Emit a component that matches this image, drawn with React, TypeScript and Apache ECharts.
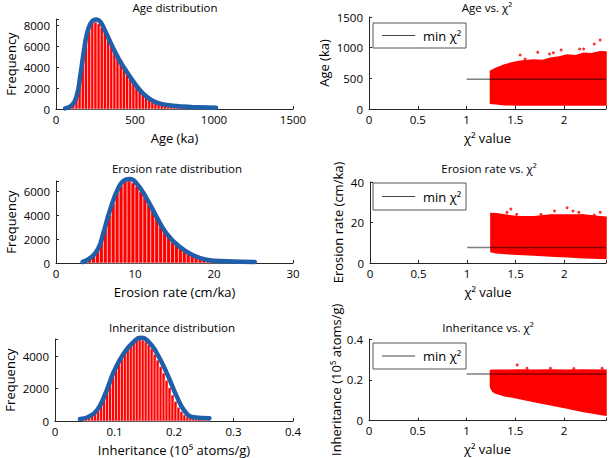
import React, { useEffect, useRef } from 'react';
import * as echarts from 'echarts';

const FONT = 'Open Sans';

// ---------- Histogram data ----------
const ageBinStart = 60;
const ageBinWidth = 20;
const ageCounts = [150, 350, 700, 1500, 2900, 4700, 6500, 7700, 8200, 8300, 8150, 7800, 7350, 6850, 6300, 5750, 5200, 4650, 4100, 3550, 3050, 2600, 2200, 1800, 1450, 1150, 950, 780, 640, 530, 450, 380, 330, 290, 250, 220, 195, 170, 150, 130, 115, 100, 90, 80, 70, 60, 50, 40];
const ageCurve = [[57, 60], [100, 350], [130, 1200], [155, 3300], [180, 5900], [205, 7700], [230, 8400], [255, 8550], [280, 8350], [310, 7500], [350, 6200], [400, 4700], [450, 3500], [500, 2400], [550, 1500], [600, 900], [650, 550], [700, 380], [800, 230], [900, 160], [1013, 120]];

const eroBinStart = 3.5;
const eroBinWidth = 0.5;
const eroCounts = [150, 300, 600, 1100, 1900, 2900, 4000, 5000, 5900, 6500, 6850, 6900, 6750, 6450, 6000, 5500, 4950, 4400, 3800, 3250, 2750, 2300, 1900, 1550, 1250, 1000, 800, 630, 500, 400, 320, 260, 210, 170, 140, 110, 90, 70, 55, 45, 35, 28, 20];
const eroCurve = [[3.37, 85], [4.5, 500], [5.35, 1210], [5.98, 2480], [6.83, 4450], [7.88, 6280], [8.72, 6990], [9.36, 7070], [10.2, 6700], [11.46, 5440], [12.73, 3890], [14.0, 2480], [15.68, 1350], [17.36, 650], [19.05, 280], [21.6, 140], [25.16, 85]];

const inhBinStart = 0.045;
const inhBinWidth = 0.005;
const inhCounts = [150, 200, 270, 360, 520, 760, 1080, 1500, 1980, 2480, 2950, 3350, 3700, 4000, 4300, 4550, 4750, 4880, 4980, 5020, 4980, 4880, 4700, 4450, 4100, 3750, 3350, 2950, 2500, 2050, 1600, 1200, 850, 580, 380, 260, 190, 150, 120, 100, 85, 70, 60];
const inhCurve = [[0.0419, 120], [0.0569, 270], [0.0709, 680], [0.0848, 1700], [0.0988, 3030], [0.1155, 4160], [0.1323, 4880], [0.1434, 5130], [0.1574, 4880], [0.1713, 4160], [0.1881, 2930], [0.2048, 1500], [0.2188, 570], [0.2327, 225], [0.2595, 165]];

// ---------- Scatter (chi-square) data: cloud envelopes + outliers ----------
const ageCloudX = [1.245, 1.3, 1.39, 1.45, 1.52, 1.6, 1.69, 1.78, 1.86, 1.95, 2.03, 2.12, 2.2, 2.28, 2.37, 2.43];
const ageCloudTop = [615, 660, 717, 745, 771, 785, 799, 790, 826, 850, 880, 870, 907, 900, 934, 930];
const ageCloudBottom = [93, 85, 70, 68, 66, 66, 66, 66, 66, 66, 66, 66, 66, 66, 66, 66];
const ageOutliers = [[1.55, 880], [1.6, 815], [1.73, 924], [1.85, 896], [1.89, 918], [1.97, 962], [2.16, 978], [2.2, 978], [2.31, 1060], [2.37, 1125]];
const ageMinChi = 487;

const eroCloudX = [1.245, 1.3, 1.39, 1.52, 1.69, 1.86, 2.03, 2.2, 2.37, 2.43];
const eroCloudTop = [24.5, 24.3, 23.7, 22.9, 22.9, 23.7, 23.7, 23.7, 22.9, 22.6];
const eroCloudBottom = [5.6, 5.1, 4.7, 4.3, 3.9, 3.5, 3.1, 2.6, 2.3, 2.2];
const eroOutliers = [[1.41, 25.0], [1.45, 26.7], [1.51, 24.0], [1.76, 24.0], [1.9, 25.7], [2.03, 27.3], [2.09, 25.7], [2.15, 25.0], [2.19, 23.4], [2.31, 23.7], [2.37, 25.0]];
const eroMinChi = 7.6;

const inhCloudX = [1.245, 1.25, 1.27, 1.3, 1.39, 1.52, 1.69, 1.86, 2.03, 2.2, 2.4, 2.43];
const inhCloudTop = [0.245, 0.246, 0.247, 0.247, 0.247, 0.248, 0.247, 0.248, 0.247, 0.248, 0.247, 0.247];
const inhCloudBottom = [0.17, 0.16, 0.143, 0.135, 0.122, 0.111, 0.094, 0.078, 0.062, 0.045, 0.029, 0.027];
const inhOutliers = [[1.52, 0.273], [1.62, 0.256], [1.86, 0.257], [2.1, 0.255], [2.39, 0.256]];
const inhMinChi = 0.228;

const chiStart = 1.0;
const chiMax = 2.43;

// ---------- Layout ----------
const grids = [
  { left: 56, top: 19, width: 237, height: 90 },
  { left: 369, top: 17, width: 238, height: 92 },
  { left: 56, top: 181, width: 237, height: 82 },
  { left: 370, top: 182, width: 238, height: 81 },
  { left: 55, top: 339, width: 238, height: 82 },
  { left: 369, top: 339, width: 239, height: 82 },
];

const AXIS_COLOR = '#262626';

function fmt(interval: number) {
  return (v: number) => {
    const r = v / interval;
    if (Math.abs(r - Math.round(r)) > 1e-6) return '';
    return String(parseFloat(v.toFixed(6)));
  };
}

function axis(gridIndex: number, min: number, max: number, interval: number, name: string, nameGap: number, isY: boolean) {
  return {
    type: 'value',
    gridIndex,
    min,
    max,
    interval,
    name,
    nameLocation: 'middle',
    nameGap,
    nameTextStyle: { fontFamily: FONT, fontSize: 13, color: '#000' },
    axisLine: { show: true, onZero: false, lineStyle: { color: AXIS_COLOR, width: 1 } },
    axisTick: { show: true, inside: true, length: 3, lineStyle: { color: AXIS_COLOR } },
    splitLine: { show: false },
    axisLabel: {
      fontFamily: FONT,
      fontSize: 11.5,
      color: '#000',
      margin: isY ? 6 : 4,
      formatter: fmt(interval),
      showMinLabel: true,
      showMaxLabel: true,
    },
  };
}

function barSeries(idx: number, start: number, width: number, counts: number[]) {
  return {
    type: 'custom',
    xAxisIndex: idx,
    yAxisIndex: idx,
    data: counts.map((c, i) => [start + i * width, start + (i + 1) * width, c]),
    encode: { x: [0, 1], y: 2 },
    renderItem: (params: any, api: any) => {
      const p0 = api.coord([api.value(0), api.value(2)]);
      const p1 = api.coord([api.value(1), 0]);
      return {
        type: 'rect',
        shape: { x: p0[0], y: p0[1], width: p1[0] - p0[0], height: p1[1] - p0[1] },
        style: { fill: '#ff0000', stroke: '#ffffff', lineWidth: 0.5 },
      };
    },
    silent: true,
    z: 2,
  };
}

function curveSeries(idx: number, pts: number[][]) {
  return {
    type: 'line',
    xAxisIndex: idx,
    yAxisIndex: idx,
    data: pts,
    smooth: 0.5,
    symbol: 'none',
    clip: false,
    lineStyle: { color: '#1f5ea8', width: 4.5, cap: 'round', join: 'round' },
    silent: true,
    z: 5,
  };
}

function cloudSeries(idx: number, xs: number[], top: number[], bottom: number[]) {
  return {
    type: 'custom',
    xAxisIndex: idx,
    yAxisIndex: idx,
    data: [[xs[0], top[0]]],
    renderItem: (params: any, api: any) => {
      const pts: number[][] = [];
      xs.forEach((x, i) => pts.push(api.coord([x, top[i]])));
      for (let i = xs.length - 1; i >= 0; i--) pts.push(api.coord([xs[i], bottom[i]]));
      return { type: 'polygon', shape: { points: pts }, style: { fill: '#ff0000', stroke: '#ff0000', lineWidth: 1.5 } };
    },
    silent: true,
    z: 2,
  };
}

function outlierSeries(idx: number, pts: number[][]) {
  return {
    type: 'scatter',
    xAxisIndex: idx,
    yAxisIndex: idx,
    data: pts,
    symbolSize: 3,
    itemStyle: { color: '#ff0000' },
    silent: true,
    z: 2,
  };
}

function minLine(idx: number, y: number) {
  return {
    type: 'line',
    name: 'min χ²',
    xAxisIndex: idx,
    yAxisIndex: idx,
    data: [[chiStart, y], [chiMax, y]],
    symbol: 'none',
    lineStyle: { color: 'rgba(0,0,0,0.5)', width: 1.5 },
    silent: true,
    z: 6,
  };
}

function title(text: string, x: number, y: number) {
  return {
    type: 'text',
    z: 100,
    style: {
      text,
      x,
      y,
      align: 'center',
      verticalAlign: 'middle',
      textAlign: 'center',
      textVerticalAlign: 'middle',
      fontFamily: FONT,
      fontSize: 11.5,
      fill: '#000',
    },
  };
}

function legendBox(x: number, y: number, w: number, h: number) {
  const cy = y + h / 2;
  return [
    { type: 'rect', z: 100, shape: { x, y, width: w, height: h }, style: { fill: '#fff', stroke: '#555', lineWidth: 1 } },
    { type: 'line', z: 101, shape: { x1: x + 9, y1: cy, x2: x + 42, y2: cy }, style: { stroke: '#444', lineWidth: 1 } },
    {
      type: 'text',
      z: 101,
      style: {
        text: 'min χ²',
        x: x + 50,
        y: cy,
        align: 'left',
        verticalAlign: 'middle',
        textAlign: 'left',
        textVerticalAlign: 'middle',
        fontFamily: FONT,
        fontSize: 13,
        fill: '#000',
      },
    },
  ];
}

export default function App() {
  const ref = useRef<HTMLDivElement>(null);
  useEffect(() => {
    if (!ref.current) return;
    const chart = echarts.init(ref.current, undefined, { renderer: 'svg' });
    const option: any = {
      animation: false,
      backgroundColor: '#ffffff',
      textStyle: { fontFamily: FONT },
      grid: grids.map((g) => ({ ...g, containLabel: false })),
      xAxis: [
        axis(0, 0, 1500, 500, 'Age (ka)', 22, false),
        axis(1, 0, chiMax, 0.5, 'χ² value', 22, false),
        axis(2, 0, 30, 10, 'Erosion rate (cm/ka)', 22, false),
        axis(3, 0, chiMax, 0.5, 'χ² value', 22, false),
        axis(4, 0, 0.4, 0.1, 'Inheritance (10⁵ atoms/g)', 22, false),
        axis(5, 0, chiMax, 0.5, 'χ² value', 22, false),
      ],
      yAxis: [
        axis(0, 0, 8600, 2000, 'Frequency', 39, true),
        axis(1, 0, 1500, 500, 'Age (ka)', 39, true),
        axis(2, 0, 6900, 2000, 'Frequency', 39, true),
        axis(3, 0, 40, 20, 'Erosion rate (cm/ka)', 26, true),
        axis(4, 0, 5050, 2000, 'Frequency', 39, true),
        axis(5, 0, 0.4, 0.2, 'Inheritance (10⁵ atoms/g)', 25, true),
      ],
      series: [
        barSeries(0, ageBinStart, ageBinWidth, ageCounts),
        curveSeries(0, ageCurve),
        barSeries(2, eroBinStart, eroBinWidth, eroCounts),
        curveSeries(2, eroCurve),
        barSeries(4, inhBinStart, inhBinWidth, inhCounts),
        curveSeries(4, inhCurve),
        cloudSeries(1, ageCloudX, ageCloudTop, ageCloudBottom),
        outlierSeries(1, ageOutliers),
        minLine(1, ageMinChi),
        cloudSeries(3, eroCloudX, eroCloudTop, eroCloudBottom),
        outlierSeries(3, eroOutliers),
        minLine(3, eroMinChi),
        cloudSeries(5, inhCloudX, inhCloudTop, inhCloudBottom),
        outlierSeries(5, inhOutliers),
        minLine(5, inhMinChi),
      ],
      graphic: [
        title('Age distribution', 175, 7),
        title('Age vs. χ²', 487, 7),
        title('Erosion rate distribution', 177, 168),
        title('Erosion rate vs. χ²', 489, 168),
        title('Inheritance distribution', 172, 327),
        title('Inheritance vs. χ²', 488, 327),
        ...legendBox(373, 23, 93, 25),
        ...legendBox(373, 183, 93, 27),
        ...legendBox(373, 343, 93, 26),
      ],
    };
    chart.setOption(option);
    return () => chart.dispose();
  }, []);
  return (
    <div
      ref={ref}
      style={{ position: 'fixed', left: 0, top: 0, width: 609, height: 458, background: '#fff' }}
    />
  );
}
